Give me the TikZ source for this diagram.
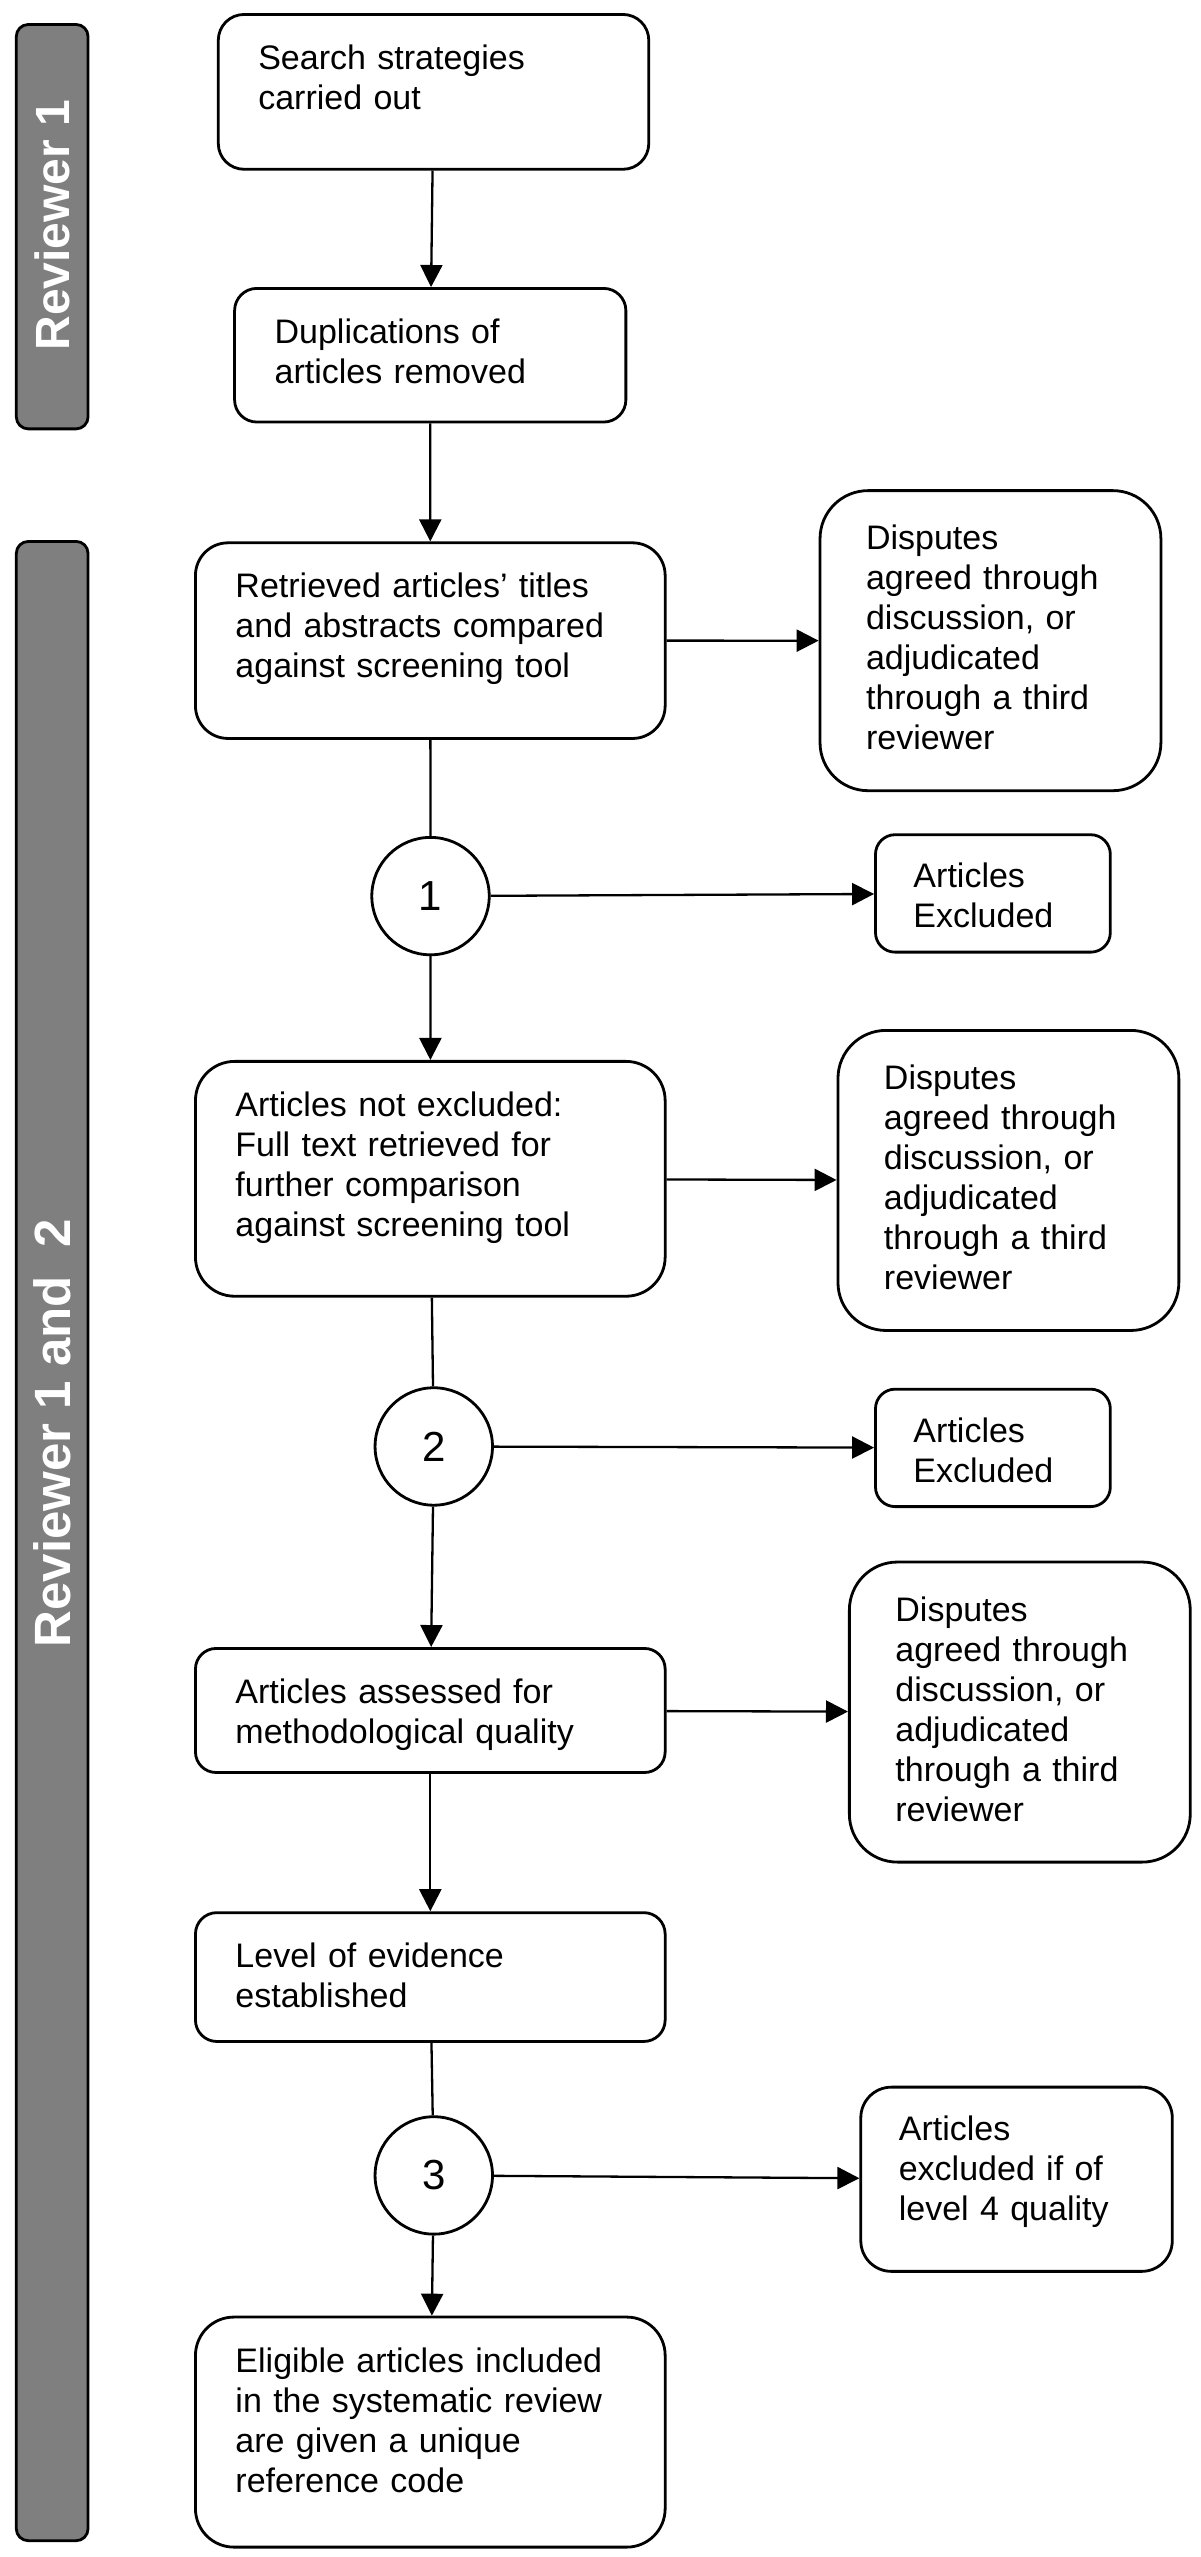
\documentclass[tikz,border=0pt]{standalone}
\usepackage{fontspec}
\setmainfont{Liberation Sans}
\usepackage{tikz}
\usepackage{xcolor}
\usetikzlibrary{arrows.meta}

\definecolor{laneGray}{HTML}{7F7F7F}

\begin{document}
\begin{tikzpicture}[x=0.8152pt, y=-0.8152pt,
    stage/.style = {draw, line width=1.4pt, anchor=north west, align=left, inner xsep=20pt, inner ysep=13pt, text height=14.5pt, font=\fontsize{17}{20}\selectfont},
    mainstage/.style = {stage, text width=194.8pt},
    dispute/.style = {stage, rounded corners=24pt, inner xsep=23pt, inner ysep=17pt, text height=12.5pt, text width=124.4pt, text depth=103.5pt},
    excl/.style = {stage, inner xsep=19pt, text height=13.5pt},
    gate/.style = {draw, circle, line width=1.4pt, minimum size=58.7pt, inner sep=0pt, font=\fontsize{21}{24}\selectfont},
    lane/.style = {draw, line width=1.4pt, fill=laneGray, rounded corners=6pt},
    lanetext/.style = {rotate=90, text=white, font=\bfseries},
    flow/.style = {line width=1.15pt, -{Triangle[length=11pt, width=11pt]}},
    link/.style = {line width=1.15pt}]
\useasboundingbox (0,0) rectangle (736,1568);

\draw[lane] (10,15) rectangle (54,263);
\draw[lane] (10,332) rectangle (54,1558);
\node[lanetext, font=\bfseries\fontsize{24}{28}\selectfont] (rev1) at (32,138) {Reviewer 1};
\node[lanetext, font=\bfseries\fontsize{25.5}{30}\selectfont] (rev12) at (32,879) {Reviewer 1 and~~2};

\node[stage, rounded corners=12.9pt, text width=175.2pt, text depth=36.9pt] (b1) at (133,8) {Search strategies\\carried out};
\node[stage, rounded corners=11.1pt, text width=155.6pt, text depth=26.3pt] (b2) at (143,176) {Duplications of\\articles removed};
\node[mainstage, rounded corners=16.3pt, text depth=57.3pt] (b3) at (119,332) {Retrieved articles’ titles\\and abstracts compared\\against screening tool};
\node[dispute] (d1) at (502,300) {Disputes\\agreed through\\discussion, or\\adjudicated\\through a third\\reviewer};
\node[gate] (c1) at (264,549.5) {1};
\node[excl, rounded corners=9.8pt, text width=79.4pt, text depth=19.2pt] (e1) at (536,511) {Articles\\Excluded};

\node[mainstage, rounded corners=19.6pt, text depth=76.9pt] (b4) at (119,650) {Articles not excluded:\\Full text retrieved for\\further comparison\\against screening tool};
\node[dispute] (d2) at (513,631) {Disputes\\agreed through\\discussion, or\\adjudicated\\through a third\\reviewer};
\node[gate] (c2) at (266,887) {2};
\node[excl, rounded corners=9.8pt, text width=79.4pt, text depth=19.2pt] (e2) at (536,851) {Articles\\Excluded};

\node[mainstage, rounded corners=10.3pt, text depth=21.5pt] (b5) at (119,1010) {Articles assessed for\\methodological quality};
\node[dispute] (d3) at (520,957) {Disputes\\agreed through\\discussion, or\\adjudicated\\through a third\\reviewer};
\node[mainstage, rounded corners=10.7pt, text depth=23.9pt] (b6) at (119,1172) {Level of evidence\\established};
\node[gate] (c3) at (266,1334) {3};
\node[excl, rounded corners=15.3pt, text width=117.7pt, text depth=52.6pt] (e3) at (527,1279) {Articles\\excluded if of\\level 4 quality};
\node[mainstage, rounded corners=19.2pt, text depth=74.5pt] (b7) at (119,1420) {Eligible articles included\\in the systematic review\\are given a unique\\reference code};

\draw[flow] (b1) -- (b2);
\draw[flow] (b2) -- (b3);
\draw[flow] (b3) -- (d1);
\draw[link] (b3) -- (c1);
\draw[flow] (c1) -- (e1);
\draw[flow] (c1) -- (b4);
\draw[flow] (b4) -- (d2);
\draw[link] (b4) -- (c2);
\draw[flow] (c2) -- (e2);
\draw[flow] (c2) -- (b5);
\draw[flow] (b5) -- (d3);
\draw[flow] (b5) -- (b6);
\draw[link] (b6) -- (c3);
\draw[flow] (c3) -- (e3);
\draw[flow] (c3) -- (b7);
\end{tikzpicture}
\end{document}
